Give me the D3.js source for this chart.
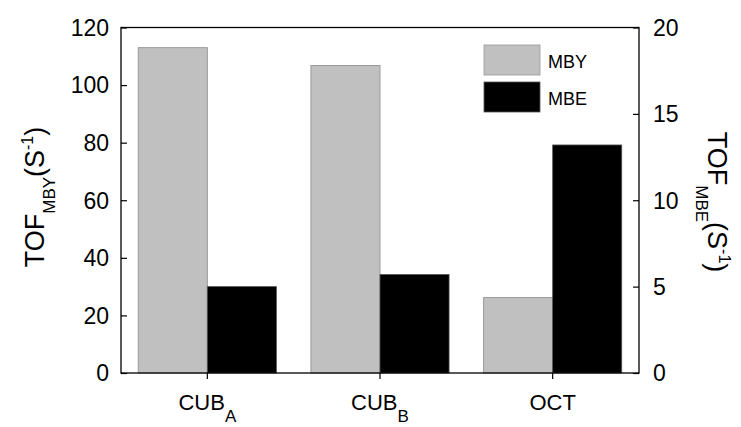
<!DOCTYPE html>
<html>
<head>
<meta charset="utf-8">
<script src="https://cdn.jsdelivr.net/npm/d3@7"></script>
<style>
  body { margin: 0; background: #fff; }
  svg text { font-family: Arial, "Liberation Sans", sans-serif; fill: #000; }
</style>
</head>
<body>
<svg id="chart" width="741" height="427"></svg>
<script>
// Catalyst categories and their turnover frequencies
const categories = ["CUB_A", "CUB_B", "OCT"];
const catMain = ["CUB", "CUB", "OCT"];
const catSub = ["A", "B", ""];
const tofMBY = [113, 106.8, 26.2];   // left axis
const tofMBE = [5.0, 5.7, 13.2];     // right axis
const leftTicks = [0, 20, 40, 60, 80, 100, 120];
const rightTicks = [0, 5, 10, 15, 20];

const svg = d3.select("#chart");
const m = { left: 121, right: 639, top: 27.5, bottom: 373 };

const x = d3.scaleBand().domain(categories).range([m.left, m.right]).paddingInner(0.2).paddingOuter(0.1);
const yL = d3.scaleLinear().domain([0, 120]).range([m.bottom, m.top]);
const yR = d3.scaleLinear().domain([0, 20]).range([m.bottom, m.top]);
const half = x.bandwidth() / 2;

// bars
const g = svg.append("g");
g.selectAll("rect.mby").data(categories).join("rect")
  .attr("x", d => x(d)).attr("width", half)
  .attr("y", (d, i) => yL(tofMBY[i])).attr("height", (d, i) => m.bottom - yL(tofMBY[i]))
  .attr("fill", "#c0c0c0").attr("stroke", "#9a9a9a").attr("stroke-width", 1);
g.selectAll("rect.mbe").data(categories).join("rect")
  .attr("x", d => x(d) + half).attr("width", half)
  .attr("y", (d, i) => yR(tofMBE[i])).attr("height", (d, i) => m.bottom - yR(tofMBE[i]))
  .attr("fill", "#000").attr("stroke", "#555").attr("stroke-width", 0.8);

// frame
svg.append("rect").attr("x", m.left).attr("y", m.top)
  .attr("width", m.right - m.left).attr("height", m.bottom - m.top)
  .attr("fill", "none").attr("stroke", "#000").attr("stroke-width", 1.3);

// left axis (inward ticks)
const axL = svg.append("g").attr("transform", `translate(${m.left},0)`)
  .call(d3.axisRight(yL).tickValues(leftTicks).tickSize(6).tickFormat(""));
axL.select(".domain").remove();
axL.selectAll("line").attr("stroke-width", 1.2);
svg.append("g").selectAll("text").data(leftTicks).join("text")
  .attr("x", 109).attr("y", d => yL(d)).attr("dy", "0.36em")
  .attr("text-anchor", "end").attr("font-size", 23).text(d => d);

// right axis (inward ticks)
const axR = svg.append("g").attr("transform", `translate(${m.right},0)`)
  .call(d3.axisLeft(yR).tickValues(rightTicks).tickSize(6).tickFormat(""));
axR.select(".domain").remove();
axR.selectAll("line").attr("stroke-width", 1.2);
svg.append("g").selectAll("text").data(rightTicks).join("text")
  .attr("x", 653).attr("y", d => yR(d)).attr("dy", "0.36em")
  .attr("text-anchor", "start").attr("font-size", 23).text(d => d);

// bottom axis (outward ticks at category centres)
const axB = svg.append("g").attr("transform", `translate(0,${m.bottom})`)
  .call(d3.axisBottom(x).tickSize(6).tickFormat(""));
axB.select(".domain").remove();
axB.selectAll("line").attr("stroke-width", 1.2);
const lab = svg.append("g").selectAll("text").data(categories).join("text")
  .attr("x", d => x(d) + half).attr("y", 410)
  .attr("text-anchor", "middle").attr("font-size", 22);
lab.append("tspan").text((d, i) => catMain[i]);
lab.append("tspan").attr("dy", 12).attr("font-size", 17).text((d, i) => catSub[i]);

// axis titles
const tl = svg.append("text").attr("transform", "translate(44,197) rotate(-90)")
  .attr("text-anchor", "middle").attr("font-size", 27);
tl.append("tspan").text("TOF");
tl.append("tspan").attr("dy", 11).attr("font-size", 17).text("MBY");
tl.append("tspan").attr("dy", -11).text("(S");
tl.append("tspan").attr("dy", -11).attr("font-size", 16).text("-1");
tl.append("tspan").attr("dy", 11).text(")");

const tr = svg.append("text").attr("transform", "translate(708,202) rotate(90)")
  .attr("text-anchor", "middle").attr("font-size", 27);
tr.append("tspan").text("TOF");
tr.append("tspan").attr("dy", 12).attr("font-size", 17).text("MBE");
tr.append("tspan").attr("dy", -12).text("(S");
tr.append("tspan").attr("dy", -11).attr("font-size", 16).text("-1");
tr.append("tspan").attr("dy", 11).text(")");

// legend
const legendItems = [
  { name: "MBY", fill: "#c0c0c0", stroke: "#9a9a9a" },
  { name: "MBE", fill: "#000", stroke: "#555" }
];
const lg = svg.append("g").selectAll("g").data(legendItems).join("g")
  .attr("transform", (d, i) => `translate(484,${45 + i * 37})`);
lg.append("rect").attr("width", 56).attr("height", 30)
  .attr("fill", d => d.fill).attr("stroke", d => d.stroke).attr("stroke-width", 0.8);
lg.append("text").attr("x", 64).attr("y", 23)
  .attr("font-size", 18).text(d => d.name);
</script>
</body>
</html>
